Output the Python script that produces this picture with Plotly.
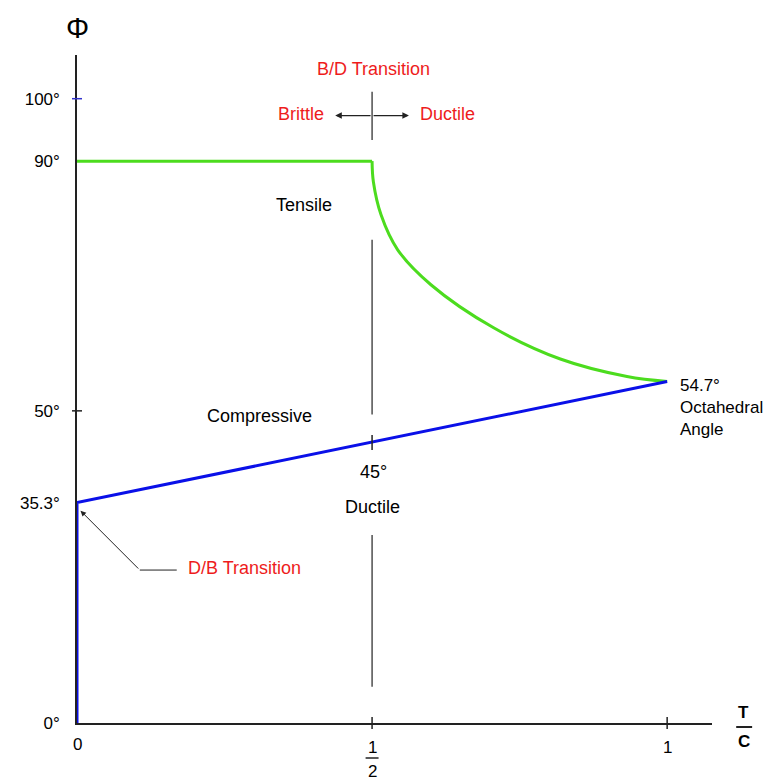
import plotly.graph_objects as go

# ---- data ----
blue_x = [0, 0, 1.0]
blue_y = [0, 35.3, 54.7]
green_flat_x = [0, 0.5]
green_flat_y = [90, 90]
green_curve_x = [0.5, 0.5022, 0.5152, 0.5434, 0.5997, 0.706, 0.819, 0.932, 1.0]
green_curve_y = [90, 86.7, 81.4, 75.8, 70.2, 63.3, 58.3, 55.5, 54.7]
y_tick_vals = [0, 35.3, 50, 90, 100]
y_tick_text = ["0°", "35.3°", "50°", "90°", "100°"]

XMAX, YMAX = 1.076, 107.0
FONT = "Liberation Sans, Arial, Helvetica, sans-serif"
RED = "#ee1c1c"
GREEN = "#4cdc1e"
BLUE = "#0a10e8"
AX = "#222222"


def px(x):
    return x / XMAX


def py(y):
    return y / YMAX


fig = go.Figure()
fig.add_trace(go.Scatter(x=green_flat_x, y=green_flat_y, mode="lines",
                         line=dict(color=GREEN, width=3), cliponaxis=False))
fig.add_trace(go.Scatter(x=green_curve_x, y=green_curve_y, mode="lines",
                         line=dict(color=GREEN, width=3, shape="spline", smoothing=1.0),
                         cliponaxis=False))
fig.add_trace(go.Scatter(x=blue_x, y=blue_y, mode="lines",
                         line=dict(color=BLUE, width=3), cliponaxis=False))

shapes = []
# tick marks crossing axes
for xv in [0.5, 1.0]:
    shapes.append(dict(type="line", xref="paper", yref="paper", ysizemode="pixel",
                       yanchor=0, x0=px(xv), x1=px(xv), y0=-6, y1=6,
                       line=dict(color=AX, width=1.5)))
for yv, col in [(50, AX), (100, "#3333cc")]:
    shapes.append(dict(type="line", xref="paper", yref="paper", xsizemode="pixel",
                       xanchor=0, x0=-5, x1=5, y0=py(yv), y1=py(yv),
                       line=dict(color=col, width=1.5)))
# vertical guide line segments at T/C = 1/2
for y0, y1 in [(77.4, 49.4), (30.1, 5.8), (101.1, 93.4)]:
    shapes.append(dict(type="line", xref="paper", yref="paper",
                       x0=px(0.5), x1=px(0.5), y0=py(y0), y1=py(y1),
                       line=dict(color=AX, width=1.2)))
# 45 deg tick
shapes.append(dict(type="line", xref="paper", yref="paper", ysizemode="pixel",
                   yanchor=py(45), x0=px(0.5), x1=px(0.5), y0=-8, y1=7,
                   line=dict(color=AX, width=1.5)))
# D/B leader horizontal
shapes.append(dict(type="line", xref="x", yref="y", x0=0.1064, x1=0.169, y0=24.5, y1=24.5,
                   line=dict(color=AX, width=1)))
# fraction bars (1/2 and T/C)
shapes.append(dict(type="line", xref="paper", yref="paper", ysizemode="pixel",
                   yanchor=0, x0=px(0.489), x1=px(0.511), y0=-35, y1=-35,
                   line=dict(color=AX, width=1.5)))
shapes.append(dict(type="line", xref="paper", yref="paper", ysizemode="pixel",
                   yanchor=0, x0=px(1.117), x1=px(1.144), y0=-4, y1=-4,
                   line=dict(color=AX, width=2)))

ann = []


def txt(x, y, t, color="black", size=18, xanchor="center", **kw):
    ann.append(dict(x=px(x), y=py(y), xref="paper", yref="paper", text=t, showarrow=False,
                    font=dict(family=FONT, size=size, color=color),
                    xanchor=xanchor, yanchor="middle", **kw))


txt(0, 111.4, "Φ", size=29)
txt(0.502, 104.8, "B/D Transition", RED)
txt(0.380, 97.6, "Brittle", RED)
txt(0.627, 97.6, "Ductile", RED)
txt(0.385, 82.9, "Tensile")
txt(0.309, 49.2, "Compressive")
txt(0.502, 40.2, "45°")
txt(0.5, 34.6, "Ductile")
txt(1.018, 50.6, "54.7°<br>Octahedral<br>Angle", size=17, xanchor="left", align="left")
txt(0.184, 24.8, "D/B Transition", RED, xanchor="left")
# x tick labels (incl. fraction 1/2)
txt(0.5, -3.9, "1", size=17)
txt(0.5, -7.8, "2", size=17)
txt(0, -3.5, "0", size=17)
txt(1.0, -4.0, "1", size=17)
# T/C
txt(1.13, 1.7, "<b>T</b>", size=17)
txt(1.13, -3.0, "<b>C</b>", size=17)

# double arrow
for tip in [0.4375, 0.5625]:
    ann.append(dict(x=tip, y=97.3, ax=0.5, ay=97.3, xref="x", yref="y", axref="x", ayref="y",
                    text="", showarrow=True, arrowhead=2, arrowsize=1.1, arrowwidth=1.2,
                    arrowcolor=AX))
# D/B leader arrow
ann.append(dict(x=0.006, y=34.0, ax=0.1064, ay=24.5, xref="x", yref="y", axref="x", ayref="y",
                text="", showarrow=True, arrowhead=2, arrowsize=1.1, arrowwidth=1,
                arrowcolor=AX))

fig.update_layout(
    width=765, height=773,
    margin=dict(l=67, r=61, t=47, b=58),
    paper_bgcolor="white", plot_bgcolor="white",
    showlegend=False,
    shapes=shapes, annotations=ann,
    font=dict(family=FONT, size=17, color="black"),
    xaxis=dict(range=[0, XMAX], showgrid=False, zeroline=False, showline=True,
               linecolor=AX, linewidth=1.5, tickvals=[], ticks=""),
    yaxis=dict(range=[0, YMAX], showgrid=False, zeroline=False, showline=True,
               linecolor=AX, linewidth=1.5, tickvals=y_tick_vals, ticktext=y_tick_text,
               ticks="", ticklabelstandoff=12, tickfont=dict(family=FONT, size=17)),
)

fig.write_html("out.html")
